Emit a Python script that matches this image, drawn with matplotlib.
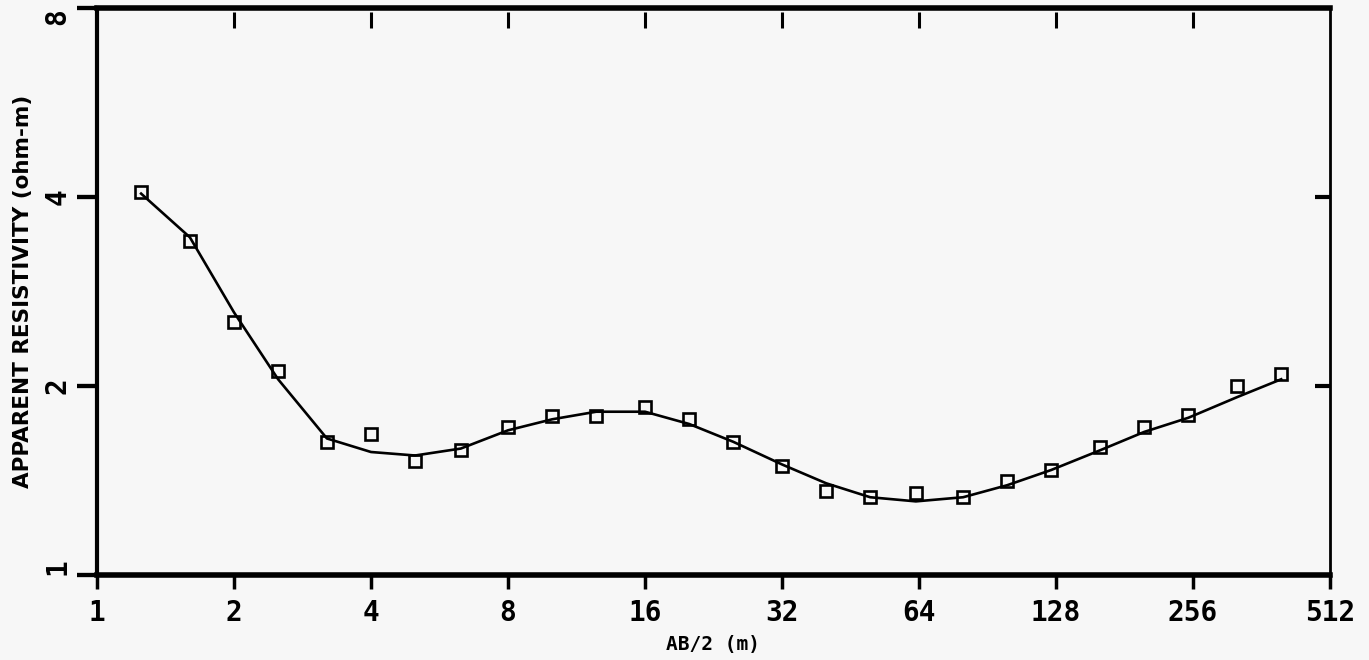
import matplotlib
matplotlib.use("Agg")
import matplotlib.pyplot as plt
from matplotlib.ticker import FixedLocator, NullLocator
from matplotlib.lines import Line2D
from matplotlib.transforms import blended_transform_factory

# ---- data ----
ab2 = [1.25, 1.6, 2, 2.5, 3.2, 4, 5, 6.3, 8, 10, 12.5, 16, 20, 25, 32, 40,
       50, 63, 80, 100, 125, 160, 200, 250, 320, 400]
rho_obs = [4.08, 3.41, 2.53, 2.11, 1.63, 1.68, 1.52, 1.58, 1.72, 1.79, 1.79,
           1.85, 1.77, 1.63, 1.49, 1.36, 1.33, 1.35, 1.33, 1.41, 1.47, 1.60,
           1.72, 1.80, 2.00, 2.09]
rho_fit = [4.05, 3.45, 2.62, 2.05, 1.65, 1.57, 1.55, 1.59, 1.70, 1.77, 1.82,
           1.82, 1.74, 1.63, 1.50, 1.40, 1.33, 1.31, 1.33, 1.39, 1.47, 1.58,
           1.69, 1.78, 1.92, 2.05]
xticks = [1, 2, 4, 8, 16, 32, 64, 128, 256, 512]
xticklabels = ["1", "2", "4", "8", "16", "32", "64", "128", "256", "512"]
yticks = [1, 2, 4, 8]
yticklabels = ["1", "2", "4", "8"]
xlabel = "AB/2 (m)"
ylabel = "APPARENT RESISTIVITY (ohm-m)"

bg = "#f7f7f7"
W, H = 1369, 660
fig = plt.figure(figsize=(W/100, H/100), dpi=100, facecolor=bg)
ax = fig.add_axes([97/W, 1 - 575/H, (1330-97)/W, (575-8)/H])
ax.set_facecolor(bg)
aw, ah = 1330 - 97, 575 - 8  # axes size in pixels

ax.plot(ab2, rho_fit, color="black", lw=1.9, zorder=2)
ax.plot(ab2, rho_obs, linestyle="none", marker="s", markersize=8,
        markerfacecolor="none", markeredgecolor="black", markeredgewidth=1.9,
        zorder=3)

ax.set_xscale("log", base=2)
ax.set_yscale("log", base=2)
ax.set_xlim(1, 512)
ax.set_ylim(1, 8)

ax.xaxis.set_major_locator(FixedLocator(xticks))
ax.xaxis.set_minor_locator(NullLocator())
ax.yaxis.set_major_locator(FixedLocator(yticks))
ax.yaxis.set_minor_locator(NullLocator())

tickfont = dict(family="DejaVu Sans Mono", weight="bold", size=20)
ax.set_xticklabels(xticklabels, fontdict=tickfont)
ax.set_yticklabels(yticklabels, fontdict=tickfont, rotation=90, va="center")
ylabs = ax.get_yticklabels()
ylabs[0].set_va("bottom")
ylabs[-1].set_va("top")

ax.tick_params(axis="x", which="major", bottom=True, top=False, direction="out",
               length=10, width=2.5, pad=7, colors="black")
ax.tick_params(axis="y", which="major", left=True, right=False, direction="out",
               length=14.5, width=3, pad=4, colors="black")

# outward left ticks drawn at figure level (x in figure fraction, y in data)
ltr = blended_transform_factory(fig.transFigure, ax.transData)
for y in yticks:
    fig.add_artist(Line2D([77/W, 97/W], [y, y], transform=ltr, color="black",
                          lw=3, solid_capstyle="butt"))

# inward ticks on top and right
xtr = ax.get_xaxis_transform()
ytr = ax.get_yaxis_transform()
for x in xticks[1:-1]:
    ax.plot([x, x], [1 - 20/ah, 1 - 4/ah], transform=xtr, color="black",
            lw=2.2, solid_capstyle="butt", clip_on=False, zorder=1)
for y in [2, 4]:
    ax.plot([1 - 15/aw, 1], [y, y], transform=ytr, color="black", lw=3,
            solid_capstyle="butt", clip_on=False, zorder=1)

for side, lw in [("top", 4), ("bottom", 4), ("left", 3), ("right", 2)]:
    ax.spines[side].set_linewidth(lw)
    ax.spines[side].set_color("black")

ax.set_xlabel(xlabel, family="DejaVu Sans Mono", weight="bold", fontsize=14,
              labelpad=6)
ax.set_ylabel(ylabel, family="DejaVu Sans", weight="bold", fontsize=15.5)
ax.yaxis.set_label_coords(-64/aw, 0.5)

fig.savefig("out.png", dpi=100, facecolor=bg)
